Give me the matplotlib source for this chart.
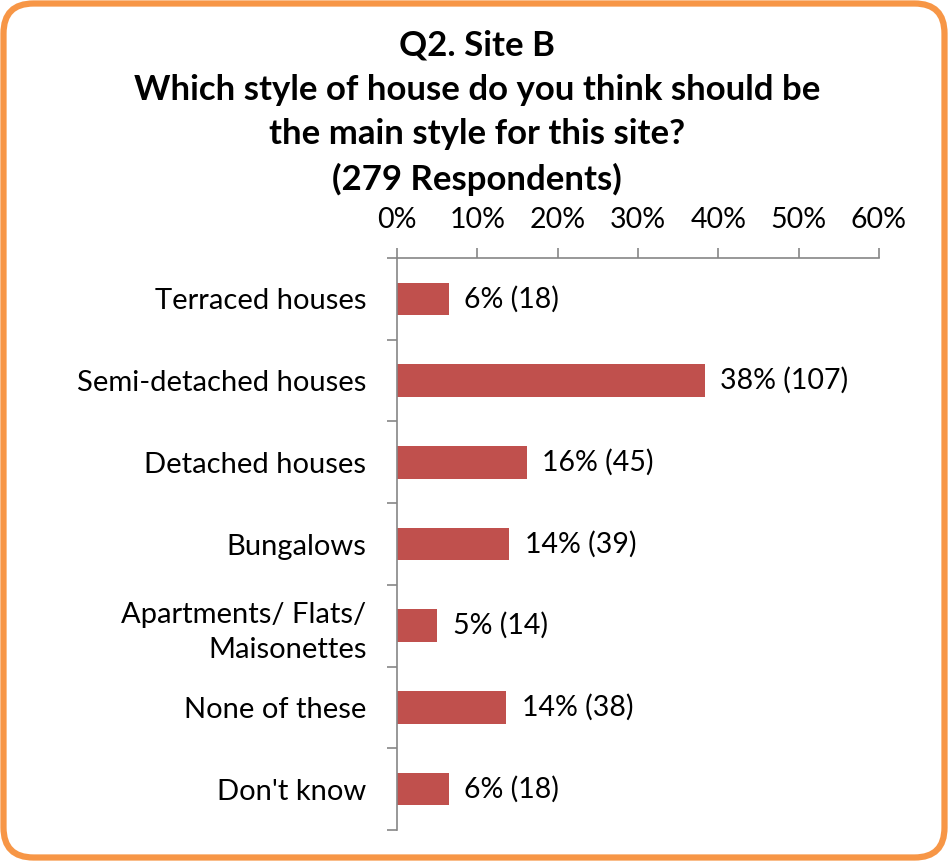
import matplotlib.pyplot as plt
import matplotlib.patches as mpatches
import numpy as np

plt.rcParams['font.family'] = ['Lato', 'DejaVu Sans']

# survey responses
categories = ['Terraced houses', 'Semi-detached houses', 'Detached houses', 'Bungalows',
              'Apartments/ Flats/\nMaisonettes', 'None of these', "Don't know"]
counts = [18, 107, 45, 39, 14, 38, 18]
respondents = 279
x_ticks = [0, 10, 20, 30, 40, 50, 60]

pct = [c / respondents * 100 for c in counts]

fig = plt.figure(figsize=(9.48, 8.61), dpi=100)
ax = fig.add_axes([0.4188, 0.036, 0.5084, 0.6643])

y = np.arange(len(categories))
ax.barh(y, pct, height=0.4, color='#C0504D')
ax.set_ylim(len(categories) - 0.5, -0.5)
ax.set_xlim(0, 60)

for yi, p, c in zip(y, pct, counts):
    ax.annotate(f'{round(p)}% ({c})', (p, yi), xytext=(11, 0), textcoords='offset points',
                va='center', ha='left', fontsize=20.5)

ax.xaxis.tick_top()
ax.set_xticks(x_ticks)
ax.set_xticklabels([f'{t}%' for t in x_ticks], fontsize=20.5)
ax.set_yticks(np.arange(len(categories) + 1) - 0.5, minor=True)
ax.set_yticks(y)
ax.set_yticklabels(categories, fontsize=21, linespacing=1.4)
ax.tick_params(axis='y', which='major', length=0, pad=22)
ax.tick_params(axis='y', which='minor', length=7, color='#868686', width=1.2)
ax.tick_params(axis='x', length=7, color='#868686', width=1.2, pad=11)

for s in ['right', 'bottom']:
    ax.spines[s].set_visible(False)
for s in ['left', 'top']:
    ax.spines[s].set_color('#868686')
    ax.spines[s].set_linewidth(1.2)

fig.text(0.503, 0.966, 'Q2. Site B\nWhich style of house do you think should be\nthe main style for this site?\n(279 Respondents)',
         ha='center', va='top', fontsize=25, fontweight='bold', linespacing=1.48)

# rounded orange frame
frame = mpatches.FancyBboxPatch((0.035, 0.035), 9.48 - 0.07, 8.61 - 0.07,
                                boxstyle='round,pad=0,rounding_size=0.3',
                                transform=fig.dpi_scale_trans, fill=False,
                                edgecolor='#F79646', linewidth=4.5)
fig.patches.append(frame)

fig.savefig('out.png', dpi=100)
